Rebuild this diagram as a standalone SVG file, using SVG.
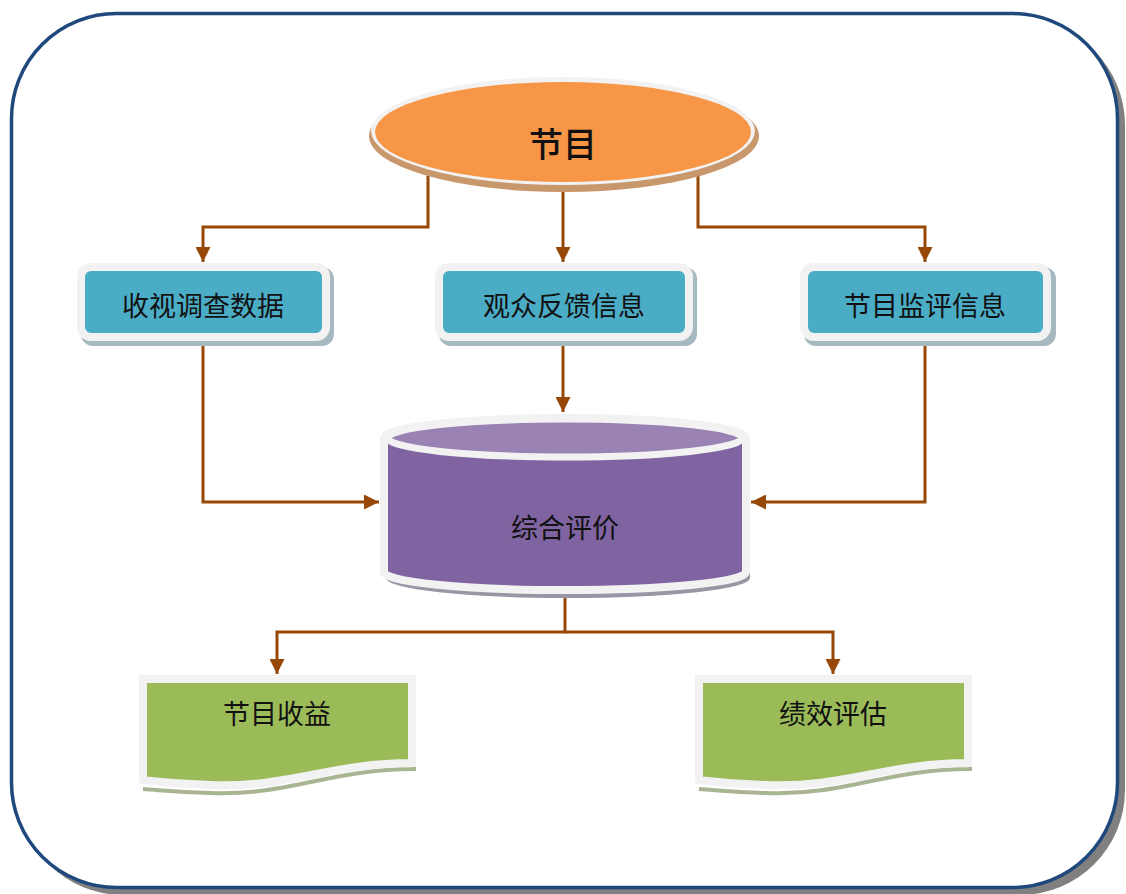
<svg xmlns="http://www.w3.org/2000/svg" width="1126" height="894" viewBox="0 0 1126 894">
<defs>
<style>
.t{font-family:"Noto Sans CJK SC","Liberation Sans",sans-serif;fill:#111;text-anchor:middle}
.c{fill:none;stroke:#974806;stroke-width:3}
.box{fill:#4BACC6;stroke:#F2F2F2;stroke-width:8}
.boxs{fill:#A6B8C0}
.doc{fill:#9BBB59;stroke:#F2F2F2;stroke-width:8}
.docs{fill:none;stroke:#A9B592;stroke-width:4}
</style>
<marker id="a" viewBox="0 0 10 10" refX="10" refY="5" markerWidth="5" markerHeight="5" orient="auto" markerUnits="strokeWidth">
<path d="M0,0 L10,5 L0,10 z" fill="#974806"/>
</marker>
</defs>
<rect width="1126" height="894" fill="#fff"/>
<g id="frame">
<rect x="18" y="20" width="1107" height="875" rx="105" fill="#808080"/>
<rect x="11.5" y="13.5" width="1106" height="874" rx="105" fill="#fff" stroke="#1F497D" stroke-width="3.5"/>
</g>
<g id="connectors">
<polyline class="c" points="428,176 428,227 203,227 203,262" marker-end="url(#a)"/>
<polyline class="c" points="563,190 563,262" marker-end="url(#a)"/>
<polyline class="c" points="698,176 698,227 925,227 925,262" marker-end="url(#a)"/>
<polyline class="c" points="203,340 203,502 379,502" marker-end="url(#a)"/>
<polyline class="c" points="563,340 563,412" marker-end="url(#a)"/>
<polyline class="c" points="925,340 925,502 751,502" marker-end="url(#a)"/>
<polyline class="c" points="565,590 565,632 277,632 277,674" marker-end="url(#a)"/>
<polyline class="c" points="565,632 833,632 833,674"  marker-end="url(#a)"/>
</g>
<g id="program">
<ellipse cx="564" cy="136" rx="195" ry="56" fill="#C8976C"/>
<ellipse cx="563" cy="131" rx="192" ry="54" fill="#F2F2F2"/>
<ellipse cx="563" cy="132" rx="188" ry="50" fill="#F79646"/>
<text class="t" x="563" y="157" font-size="34" font-weight="500">节目</text>
</g>
<g id="survey">
<rect class="boxs" x="81" y="267" width="253" height="79" rx="12"/>
<rect class="box" x="81" y="267" width="245" height="70" rx="10"/>
<text class="t" x="203" y="316" font-size="27">收视调查数据</text>
</g>
<g id="feedback">
<rect class="boxs" x="439" y="267" width="258" height="79" rx="12"/>
<rect class="box" x="439" y="267" width="250" height="70" rx="10"/>
<text class="t" x="564" y="316" font-size="27">观众反馈信息</text>
</g>
<g id="monitor">
<rect class="boxs" x="804" y="267" width="252" height="79" rx="12"/>
<rect class="box" x="804" y="267" width="243" height="70" rx="10"/>
<text class="t" x="925" y="316" font-size="27">节目监评信息</text>
</g>
<g id="evaluation">
<path d="M384,442 L384,574 A181,20 0 0 0 748,574 L748,442 Z" fill="#9A94A4" transform="translate(2,4)"/>
<path d="M384,438 L384,572 A181,18 0 0 0 746,572 L746,438 A181,20 0 0 0 384,438 Z" fill="#8064A2" stroke="#F2F2F2" stroke-width="8"/>
<ellipse cx="565" cy="438" rx="177" ry="19" fill="#9A82B5" stroke="#F2F2F2" stroke-width="7"/>
<text class="t" x="565" y="538" font-size="27">综合评价</text>
</g>
<g id="revenue">
<path class="docs" d="M143,683 L414,683 L414,766 C330,766 290,793 210,790 C175,789 160,787 143,786" transform="translate(0,3)"/>
<path class="doc" d="M143,679 L412,679 L412,763 C330,763 290,788 210,785 C175,784 160,782 143,780 Z"/>
<text class="t" x="277" y="724" font-size="27">节目收益</text>
</g>
<g id="performance">
<path class="docs" d="M699,683 L970,683 L970,766 C886,766 846,793 766,790 C731,789 716,787 699,786" transform="translate(0,3)"/>
<path class="doc" d="M699,679 L968,679 L968,763 C886,763 846,788 766,785 C731,784 716,782 699,780 Z"/>
<text class="t" x="833" y="724" font-size="27">绩效评估</text>
</g>
</svg>
